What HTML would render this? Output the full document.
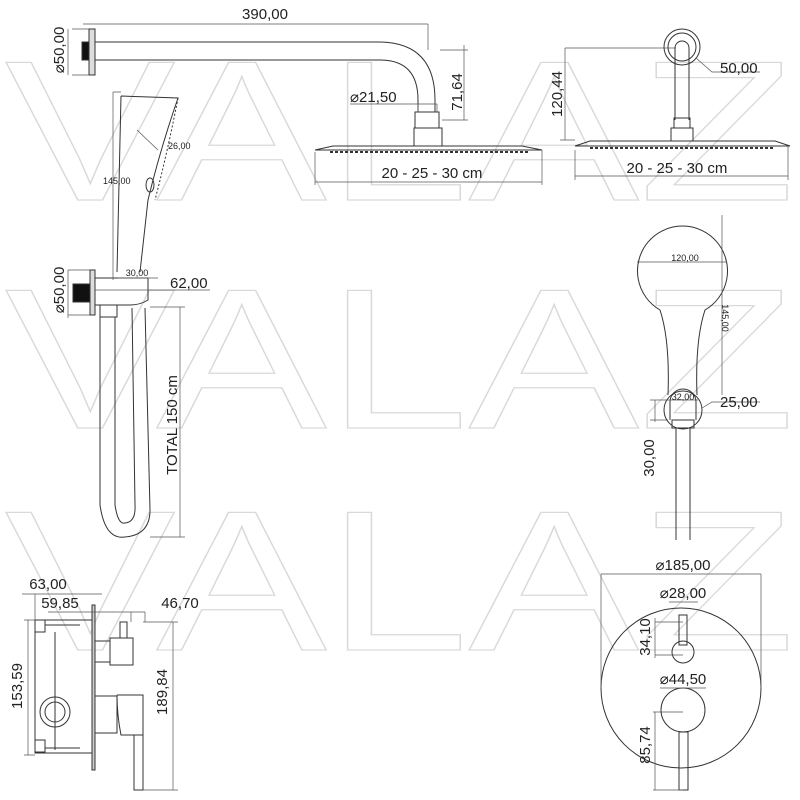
<!DOCTYPE html>
<html><head><meta charset="utf-8"><style>
html,body{margin:0;padding:0;background:#fff;width:800px;height:800px;overflow:hidden}
svg{display:block}
text{font-family:"Liberation Sans",sans-serif;fill:#222}
</style></head><body>
<svg width="800" height="800" viewBox="0 0 800 800" xmlns="http://www.w3.org/2000/svg">
<!-- watermark -->
<g fill="none" stroke="#d9d9d9" stroke-width="1.2" font-size="200" font-family="Liberation Sans, sans-serif">
<text x="5" y="200" textLength="790" lengthAdjust="spacingAndGlyphs" style="fill:none;stroke:#d9d9d9">VALAZ</text>
<text x="5" y="428" textLength="790" lengthAdjust="spacingAndGlyphs" style="fill:none;stroke:#d9d9d9">VALAZ</text>
<text x="5" y="650" textLength="790" lengthAdjust="spacingAndGlyphs" style="fill:none;stroke:#d9d9d9">VALAZ</text>
</g>

<g fill="none" stroke="#333" stroke-width="1">
<!-- top arm -->
<rect x="89" y="29" width="6" height="46" fill="#ddd"/>
<rect x="82" y="42" width="7" height="18" fill="#111"/>
<path d="M95 42 H378 Q435 42 435 100 V112"/>
<path d="M95 60 H380 Q418 60 418 100 V112"/>
<rect x="415" y="112" width="24" height="16"/>
<rect x="414" y="128" width="28" height="18"/>
<path d="M315 150 L333 146 H522 L542 150 Z"/>
<path d="M330 152 H530" stroke-dasharray="3 2" stroke-width="2"/>
<!-- dims top -->
<g stroke="#555" stroke-width="0.7">
<path d="M83 24 H428 M428 24 V50 M440 50 H468 M464 45 V120 M442 120 H468"/>
<path d="M350 104 H437 M418 104 V112 M437 104 V112"/>
<path d="M315 152 V185 M542 150 V185 M315 182 H542"/>
<path d="M72 29 H89 M72 75 H89 M68 29 V75"/>
</g>
<!-- right top -->
<circle cx="682" cy="47" r="18"/>
<circle cx="682" cy="47" r="14"/>
<path d="M675 120 V48 A7 7 0 0 1 689 48 V120"/>
<rect x="674" y="118" width="16" height="10"/>
<rect x="671" y="128" width="22" height="13"/>
<path d="M575 146 L590 141 H775 L790 146 Z"/>
<path d="M590 148 H775" stroke-dasharray="3 2" stroke-width="2"/>
<g stroke="#555" stroke-width="0.7">
<path d="M565 48 H676 M565 48 V140 M560 140 H575 M575 150 V180 M788 146 V180 M575 176 H788 M696 58 L712 72 H760"/>
</g>
<!-- hand shower side -->
<path d="M121 96 L178 98 Q160 150 148 200 L140 272 M121 96 L117 272"/>
<path d="M178 98 Q168 150 155 200" stroke-dasharray="2 2"/>
<ellipse cx="150" cy="185" rx="4" ry="7"/>
<rect x="90" y="270" width="5" height="45" fill="#ddd"/>
<rect x="73" y="284" width="17" height="18" fill="#111"/>
<path d="M95 278 H148 V300 Q140 305 130 305 H95"/>
<rect x="100" y="305" width="17" height="12"/>
<path d="M100 317 V505 Q105 540 125 537 Q150 535 150 510 L145 308"/>
<path d="M115 317 V505 Q118 525 125 523 Q136 522 135 505 L132 308"/>
<g stroke="#555" stroke-width="0.7">
<path d="M113 92 V280 M113 92 H121"/>
<path d="M137 130 L158 150"/>
<path d="M118 278 H158 M95 290 H160 M160 290 H210"/>
<path d="M68 270 V318 M68 270 H90 M68 315 H90"/>
<path d="M180 307 V537 M150 307 H185 M150 537 H185"/>
</g>
<!-- right hand shower -->
<path d="M668 395 Q670 340 660 310 A45 45 0 1 1 705 310 Q695 340 697 395"/>
<circle cx="683" cy="410" r="19"/>
<path d="M670 402 A13 13 0 0 1 696 402 M670 402 V420 M696 402 V420"/>
<rect x="672" y="420" width="22" height="8"/>
<path d="M676 428 V540 M690 428 V540"/>
<g stroke="#555" stroke-width="0.7">
<path d="M637 262 H727 M722 215 V395 M668 400 H698 M702 408 L712 402 H760 M650 400 H668 M650 420 H668 M655 400 V422"/>
</g>
<!-- bottom left valve -->
<rect x="35" y="620" width="57" height="133"/>
<rect x="35" y="620" width="10" height="12"/>
<rect x="35" y="740" width="10" height="12"/>
<path d="M45 625 H80 M45 748 H80 M55 632 V750"/>
<circle cx="55" cy="712" r="15"/>
<circle cx="55" cy="712" r="10"/>
<rect x="92" y="605" width="3" height="165" fill="#ccc"/>
<rect x="95" y="641" width="15" height="21"/>
<rect x="110" y="638" width="23" height="27"/>
<rect x="120" y="622" width="7" height="16"/>
<rect x="95" y="696" width="22" height="37"/>
<path d="M117 695 H143 V735 H121 Q117 715 117 695"/>
<rect x="134" y="735" width="9" height="55"/>
<g stroke="#555" stroke-width="0.7">
<path d="M22 594 H102 M35 594 V620 M48 612 H92 M92 612 H145 M145 612 V622 M131 612 V622"/>
<path d="M28 620 V755 M24 620 H35 M24 755 H35"/>
<path d="M173 622 V790 M143 622 H178 M143 790 H178"/>
</g>
<!-- bottom right -->
<circle cx="681" cy="688" r="80"/>
<rect x="679" y="615" width="8" height="30"/>
<circle cx="683" cy="652" r="11"/>
<circle cx="683" cy="710" r="22"/>
<rect x="679" y="732" width="9" height="58"/>
<g stroke="#555" stroke-width="0.7">
<path d="M601 574 H761 M601 574 V688 M761 574 V688"/>
<path d="M669 602 H698 M655 622 H683 M655 655 H683 M655 618 V658"/>
<path d="M660 688 H706 M653 712 H683 M653 790 H683 M655 712 V790"/>
</g>
</g>

<!-- labels -->
<g font-size="15">
<text x="265" y="19" text-anchor="middle">390,00</text>
<text x="350" y="102">⌀21,50</text>
<text transform="translate(462,92) rotate(-90)" text-anchor="middle">71,64</text>
<text x="432" y="178" text-anchor="middle">20 - 25 - 30 cm</text>
<text transform="translate(64,50) rotate(-90)" text-anchor="middle">⌀50,00</text>
<text x="720" y="73">50,00</text>
<text transform="translate(562,94) rotate(-90)" text-anchor="middle">120,44</text>
<text x="677" y="173" text-anchor="middle">20 - 25 - 30 cm</text>
<text x="170" y="288">62,00</text>
<text transform="translate(64,290) rotate(-90)" text-anchor="middle">⌀50,00</text>
<text transform="translate(177,425) rotate(-90)" text-anchor="middle">TOTAL 150 cm</text>
<text x="720" y="407">25,00</text>
<text transform="translate(654,458) rotate(-90)" text-anchor="middle">30,00</text>
<text x="48" y="589" text-anchor="middle">63,00</text>
<text x="60" y="608" text-anchor="middle">59,85</text>
<text x="180" y="608" text-anchor="middle">46,70</text>
<text transform="translate(22,686) rotate(-90)" text-anchor="middle">153,59</text>
<text transform="translate(167,692) rotate(-90)" text-anchor="middle">189,84</text>
<text x="683" y="570" text-anchor="middle">⌀185,00</text>
<text x="683" y="598" text-anchor="middle">⌀28,00</text>
<text transform="translate(650,637) rotate(-90)" text-anchor="middle">34,10</text>
<text x="683" y="684" text-anchor="middle">⌀44,50</text>
<text transform="translate(650,745) rotate(-90)" text-anchor="middle">85,74</text>
</g>
<g font-size="9">
<text x="168" y="149">26,00</text>
<text x="103" y="184">145,00</text>
<text x="137" y="276" text-anchor="middle">30,00</text>
<text x="685" y="261" text-anchor="middle">120,00</text>
<text transform="translate(722,318) rotate(90)" text-anchor="middle">145,00</text>
<text x="683" y="400" text-anchor="middle">32,00</text>
</g>
</svg>
</body></html>
